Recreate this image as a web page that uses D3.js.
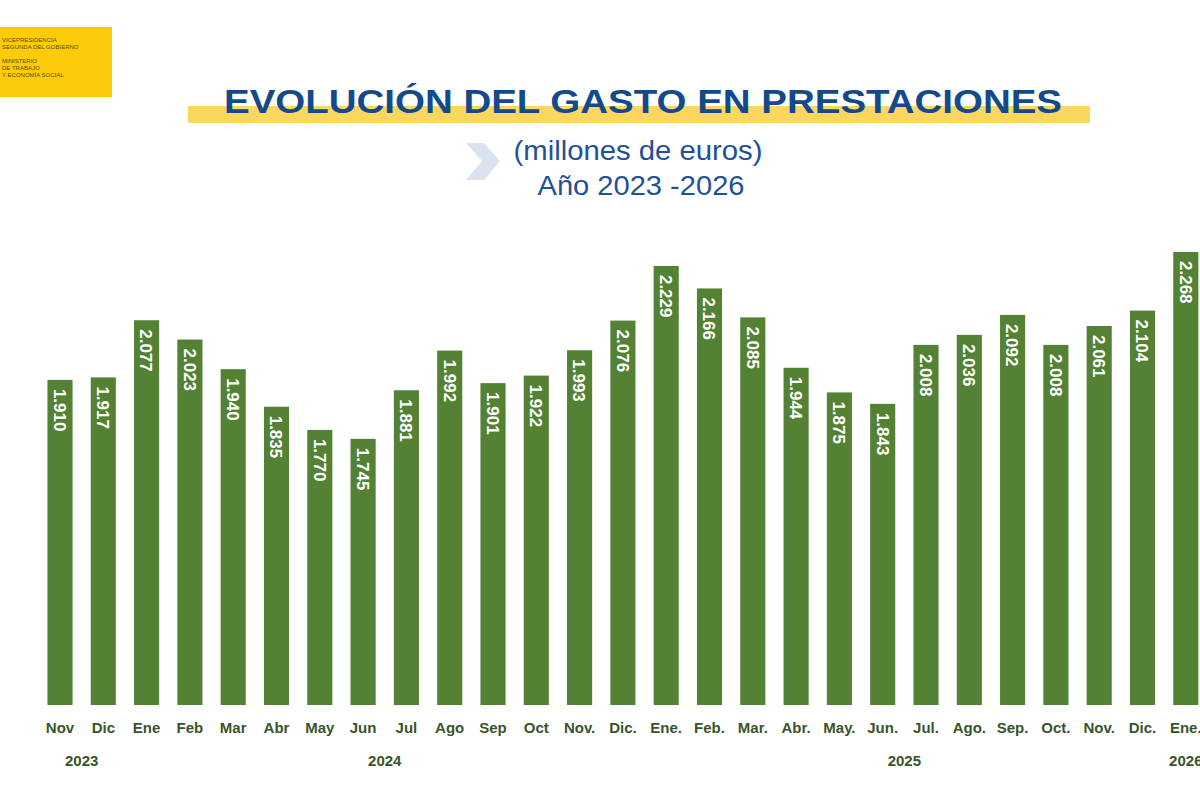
<!DOCTYPE html>
<html>
<head>
<meta charset="utf-8">
<script src="https://cdn.jsdelivr.net/npm/d3@7"></script>
<style>
  body { margin: 0; background: #fff; }
  svg { display: block; font-family: "Liberation Sans", Arial, sans-serif; }
</style>
</head>
<body>
<div id="viz-container"></div>
<script>
// data
let months = ["Nov","Dic","Ene","Feb","Mar","Abr","May","Jun","Jul","Ago","Sep","Oct",
  "Nov.","Dic.","Ene.","Feb.","Mar.","Abr.","May.","Jun.","Jul.","Ago.","Sep.","Oct.","Nov.","Dic.","Ene."];
let years = [2023,2023,2024,2024,2024,2024,2024,2024,2024,2024,2024,2024,2024,2024,
  2025,2025,2025,2025,2025,2025,2025,2025,2025,2025,2025,2025,2026];
let gasto = [1910,1917,2077,2023,1940,1835,1770,1745,1881,1992,1901,1922,1993,2076,
  2229,2166,2085,1944,1875,1843,2008,2036,2092,2008,2061,2104,2268];
let logoLines = ["VICEPRESIDENCIA","SEGUNDA DEL GOBIERNO","","MINISTERIO","DE TRABAJO","Y ECONOMÍA SOCIAL"];

let data = months.map((m,i) => ({i: i, month: m, year: years[i], value: gasto[i]}));

let es = d3.formatLocale({decimal: ",", thousands: ".", grouping: [3], currency: ["", " €"]});
let fmt = es.format(",d");

let viz = d3.select("#viz-container")
  .append("svg")
    .attr("width", 1200)
    .attr("height", 800);

// logo block
viz.append("rect")
  .attr("x", 0).attr("y", 27).attr("width", 112).attr("height", 70)
  .attr("fill", "#fdcb0a");
viz.append("g").selectAll("text").data(logoLines).enter()
  .append("text")
  .attr("x", 2)
  .attr("y", (d,i) => 42 + i*7)
  .attr("font-size", 6)
  .attr("fill", "#5a4a10")
  .text(d => d);

// title with yellow band
viz.append("rect")
  .attr("x", 188).attr("y", 106).attr("width", 902).attr("height", 17)
  .attr("fill", "#fbd660");
viz.append("text")
  .attr("x", 643).attr("y", 113)
  .attr("text-anchor", "middle")
  .attr("font-size", 34)
  .attr("font-weight", "bold")
  .attr("fill", "#144a8c")
  .attr("textLength", 838)
  .attr("lengthAdjust", "spacingAndGlyphs")
  .text("EVOLUCIÓN DEL GASTO EN PRESTACIONES");

// chevron
viz.append("path")
  .attr("d", "M466,143 L484,143 L500,161 L484,180 L466,180 L482,161 Z")
  .attr("fill", "#dbe3f1");

viz.append("text")
  .attr("x", 638).attr("y", 160)
  .attr("text-anchor", "middle")
  .attr("font-size", 28)
  .attr("fill", "#1f5199")
  .attr("textLength", 249)
  .attr("lengthAdjust", "spacingAndGlyphs")
  .text("(millones de euros)");
viz.append("text")
  .attr("x", 641).attr("y", 195)
  .attr("text-anchor", "middle")
  .attr("font-size", 28)
  .attr("fill", "#1f5199")
  .attr("textLength", 207)
  .attr("lengthAdjust", "spacingAndGlyphs")
  .text("Año 2023 -2026");

// scales
let x = d3.scaleBand()
  .domain(data.map(d => d.i))
  .range([38.35, 38.35 + 27*43.3])
  .paddingInner(0.42)
  .paddingOuter(0.21);

let y = d3.scaleLinear()
  .domain([1000, 2268])
  .range([705, 252]);

let green = "#548235";

viz.selectAll(".bar").data(data).enter()
  .append("rect")
  .attr("class", "bar")
  .attr("x", d => x(d.i))
  .attr("y", d => y(d.value))
  .attr("width", x.bandwidth())
  .attr("height", d => y(1000) - y(d.value))
  .attr("fill", green);

viz.selectAll(".val").data(data).enter()
  .append("text")
  .attr("class", "val")
  .attr("transform", d => "translate(" + (x(d.i) + x.bandwidth()/2) + "," + (y(d.value) + 9) + ") rotate(90)")
  .attr("dy", "0.36em")
  .attr("font-size", 17)
  .attr("font-weight", "bold")
  .attr("fill", "#fff")
  .text(d => fmt(d.value));

// month axis
let xAxis = d3.axisBottom(x)
  .tickSize(0)
  .tickPadding(10)
  .tickFormat(i => months[i]);

let ax = viz.append("g")
  .attr("transform", "translate(0,712)")
  .call(xAxis);
ax.select(".domain").remove();
ax.selectAll("text")
  .attr("font-size", 15)
  .attr("font-weight", "bold")
  .attr("font-family", "Liberation Sans, Arial, sans-serif")
  .attr("fill", "#38552a");

// year labels, centred under each group of months
let yearGroups = d3.rollups(data, v => d3.mean(v, d => x(d.i) + x.bandwidth()/2), d => d.year);
viz.selectAll(".year").data(yearGroups).enter()
  .append("text")
  .attr("class", "year")
  .attr("x", d => d[1])
  .attr("y", 766)
  .attr("text-anchor", "middle")
  .attr("font-size", 15)
  .attr("font-weight", "bold")
  .attr("fill", "#38552a")
  .text(d => d[0]);
</script>
</body>
</html>
